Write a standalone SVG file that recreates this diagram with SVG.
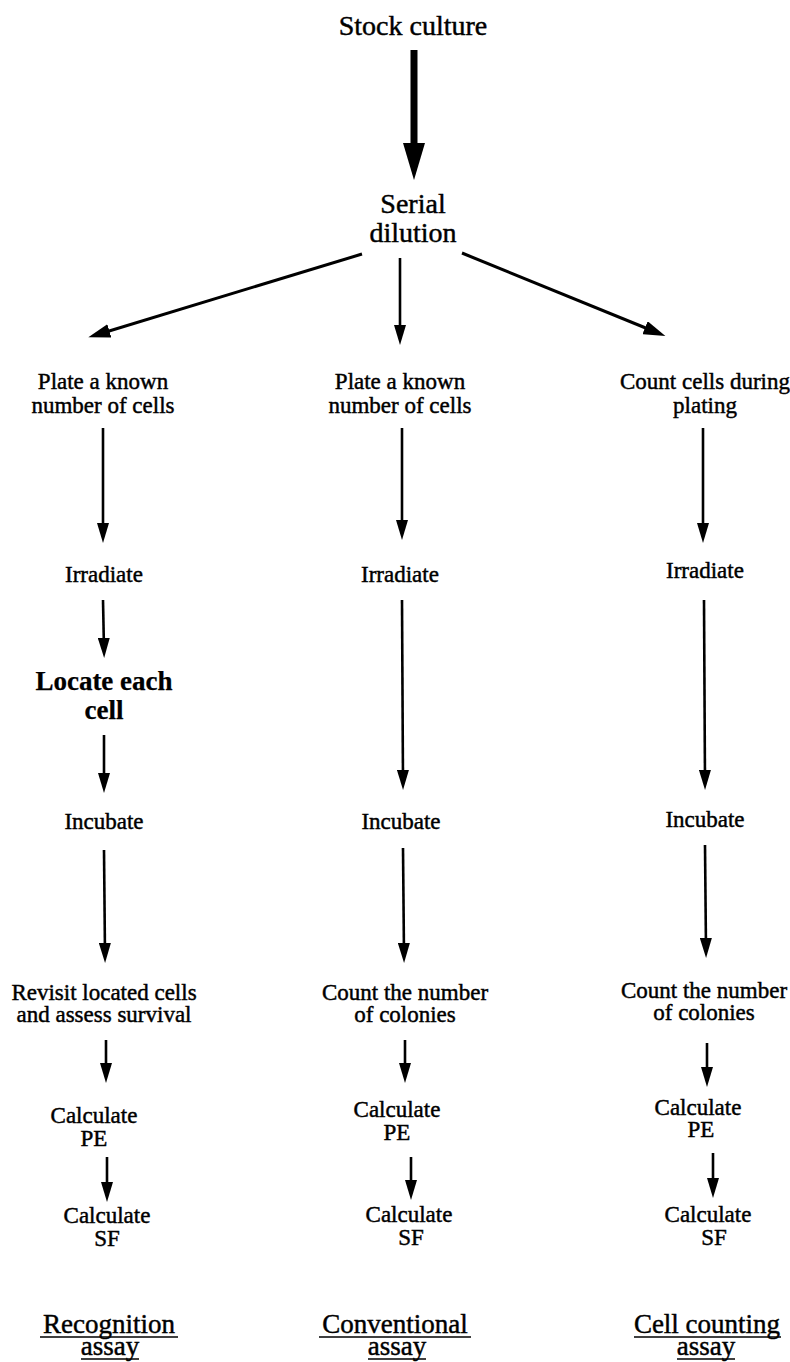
<svg xmlns="http://www.w3.org/2000/svg" width="790" height="1362" viewBox="0 0 790 1362">
  <style>
    .t { font-family: "Liberation Serif", "Times New Roman", serif; fill: #000; stroke: #000; stroke-width: 0.45; text-anchor: middle; }
    .s { font-size: 23px; }
    .l { font-size: 28px; }
    .f { font-size: 27px; }
    .b { font-size: 27px; font-weight: bold; stroke-width: 0.25; }
    .arr { stroke: #000; stroke-width: 2.6; fill: none; marker-end: url(#head); }
    .arr-d { stroke: #000; stroke-width: 3; fill: none; marker-end: url(#head-d); }
    .ul { stroke: #000; stroke-width: 1.6; }
  </style>
  <defs>
    <marker id="head" viewBox="0 0 20 12" refX="12" refY="6" markerWidth="20" markerHeight="12" markerUnits="userSpaceOnUse" orient="auto">
      <path d="M0,0 L20,6 L0,12 Z" fill="#000"/>
    </marker>
    <marker id="head-d" viewBox="0 0 22 14" refX="14" refY="7" markerWidth="22" markerHeight="14" markerUnits="userSpaceOnUse" orient="auto">
      <path d="M0,0 L22,7 L0,14 Z" fill="#000"/>
    </marker>
  </defs>
  <rect width="790" height="1362" fill="#fff"/>

  <!-- top of the flow -->
  <g id="stock-culture"><text class="t l" x="413" y="35">Stock culture</text></g>
  <g id="serial-dilution">
    <text class="t l" x="413" y="213">Serial</text>
    <text class="t l" x="413" y="242">dilution</text>
  </g>

  <!-- recognition assay column -->
  <g id="c1-plate">
    <text class="t s" x="103" y="389">Plate a known</text>
    <text class="t s" x="103" y="413">number of cells</text>
  </g>
  <g id="c1-irradiate"><text class="t s" x="104" y="582">Irradiate</text></g>
  <g id="c1-locate">
    <text class="t b" x="104" y="690">Locate each</text>
    <text class="t b" x="104" y="719">cell</text>
  </g>
  <g id="c1-incubate"><text class="t s" x="104" y="829">Incubate</text></g>
  <g id="c1-revisit">
    <text class="t s" x="104" y="1000">Revisit located cells</text>
    <text class="t s" x="104" y="1022">and assess survival</text>
  </g>
  <g id="c1-pe">
    <text class="t s" x="94" y="1123">Calculate</text>
    <text class="t s" x="94" y="1146">PE</text>
  </g>
  <g id="c1-sf">
    <text class="t s" x="107" y="1223">Calculate</text>
    <text class="t s" x="107" y="1246">SF</text>
  </g>
  <g id="c1-label">
    <text class="t f" x="109" y="1333">Recognition</text>
    <line class="ul" x1="40" y1="1337" x2="178" y2="1337"/>
    <text class="t f" x="110" y="1355">assay</text>
    <line class="ul" x1="81" y1="1359" x2="139" y2="1359"/>
  </g>

  <!-- conventional assay column -->
  <g id="c2-plate">
    <text class="t s" x="400" y="389">Plate a known</text>
    <text class="t s" x="400" y="413">number of cells</text>
  </g>
  <g id="c2-irradiate"><text class="t s" x="400" y="582">Irradiate</text></g>
  <g id="c2-incubate"><text class="t s" x="401" y="829">Incubate</text></g>
  <g id="c2-count">
    <text class="t s" x="405" y="1000">Count the number</text>
    <text class="t s" x="405" y="1022">of colonies</text>
  </g>
  <g id="c2-pe">
    <text class="t s" x="397" y="1117">Calculate</text>
    <text class="t s" x="397" y="1140">PE</text>
  </g>
  <g id="c2-sf">
    <text class="t s" x="409" y="1222">Calculate</text>
    <text class="t s" x="411" y="1245">SF</text>
  </g>
  <g id="c2-label">
    <text class="t f" x="395" y="1333">Conventional</text>
    <line class="ul" x1="319" y1="1337" x2="471" y2="1337"/>
    <text class="t f" x="397" y="1355">assay</text>
    <line class="ul" x1="368" y1="1359" x2="426" y2="1359"/>
  </g>

  <!-- cell counting assay column -->
  <g id="c3-plate">
    <text class="t s" x="705" y="389">Count cells during</text>
    <text class="t s" x="705" y="413">plating</text>
  </g>
  <g id="c3-irradiate"><text class="t s" x="705" y="578">Irradiate</text></g>
  <g id="c3-incubate"><text class="t s" x="705" y="827">Incubate</text></g>
  <g id="c3-count">
    <text class="t s" x="704" y="998">Count the number</text>
    <text class="t s" x="704" y="1020">of colonies</text>
  </g>
  <g id="c3-pe">
    <text class="t s" x="698" y="1115">Calculate</text>
    <text class="t s" x="701" y="1137">PE</text>
  </g>
  <g id="c3-sf">
    <text class="t s" x="708" y="1222">Calculate</text>
    <text class="t s" x="714" y="1245">SF</text>
  </g>
  <g id="c3-label">
    <text class="t f" x="707" y="1333">Cell counting</text>
    <line class="ul" x1="634" y1="1337" x2="781" y2="1337"/>
    <text class="t f" x="706" y="1355">assay</text>
    <line class="ul" x1="677" y1="1359" x2="735" y2="1359"/>
  </g>

  <!-- connectors -->
  <g id="connectors">
    <line x1="414" y1="50" x2="414" y2="146" stroke="#000" stroke-width="7"/>
    <polygon points="403,143 425,143 414,180" fill="#000"/>

    <line class="arr-d" x1="362" y1="254" x2="96" y2="335"/>
    <line class="arr" x1="400" y1="258" x2="400" y2="337"/>
    <line class="arr-d" x1="462" y1="253" x2="658" y2="333"/>

    <line class="arr" x1="103" y1="428" x2="103" y2="535"/>
    <line class="arr" x1="103" y1="600" x2="104" y2="650"/>
    <line class="arr" x1="104" y1="735" x2="104" y2="785"/>
    <line class="arr" x1="104" y1="850" x2="105" y2="955"/>
    <line class="arr" x1="106" y1="1040" x2="106" y2="1075"/>
    <line class="arr" x1="107" y1="1157" x2="107" y2="1194"/>

    <line class="arr" x1="402" y1="428" x2="402" y2="532"/>
    <line class="arr" x1="402" y1="600" x2="403" y2="782"/>
    <line class="arr" x1="403" y1="848" x2="404" y2="955"/>
    <line class="arr" x1="405" y1="1040" x2="405" y2="1075"/>
    <line class="arr" x1="411" y1="1157" x2="411" y2="1192"/>

    <line class="arr" x1="703" y1="428" x2="703" y2="535"/>
    <line class="arr" x1="704" y1="600" x2="705" y2="782"/>
    <line class="arr" x1="705" y1="845" x2="706" y2="950"/>
    <line class="arr" x1="707" y1="1043" x2="707" y2="1079"/>
    <line class="arr" x1="713" y1="1153" x2="713" y2="1190"/>
  </g>
</svg>
